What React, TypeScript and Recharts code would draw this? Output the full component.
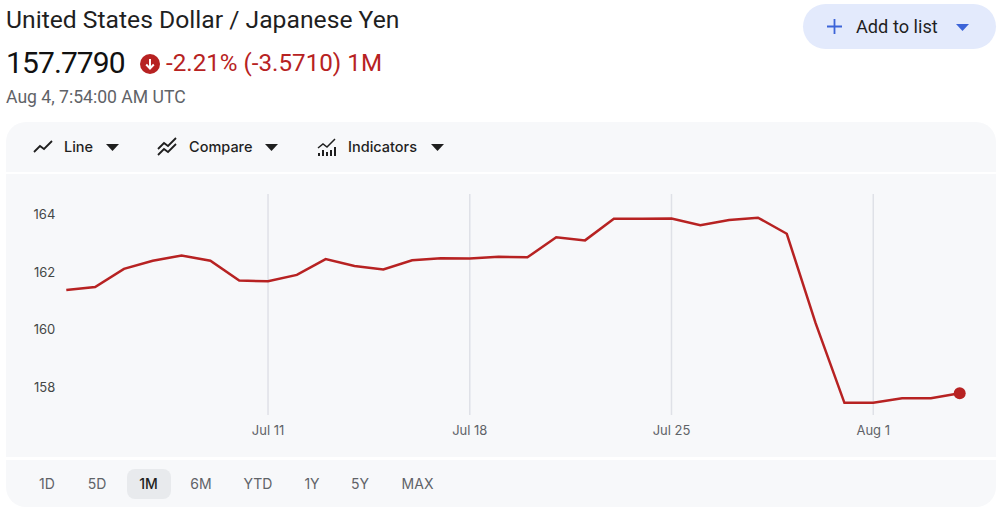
import React from 'react';
import { LineChart, Line, XAxis, YAxis, ReferenceLine } from 'recharts';

const dates = ['Jul 4','Jul 5','Jul 6','Jul 7','Jul 8','Jul 9','Jul 10','Jul 11','Jul 12','Jul 13','Jul 14','Jul 15','Jul 16','Jul 17','Jul 18','Jul 19','Jul 20','Jul 21','Jul 22','Jul 23','Jul 24','Jul 25','Jul 26','Jul 27','Jul 28','Jul 29','Jul 30','Jul 31','Aug 1','Aug 2','Aug 3','Aug 4'];
const rates = [161.37,161.48,162.11,162.39,162.57,162.39,161.70,161.68,161.90,162.45,162.21,162.09,162.41,162.48,162.47,162.53,162.51,163.21,163.10,163.85,163.85,163.86,163.63,163.81,163.89,163.33,160.22,157.45,157.45,157.61,157.61,157.779];
const xTicks = ['Jul 11','Jul 18','Jul 25','Aug 1'];
const yTicks = [158,160,162,164];
const periods = ['1D','5D','1M','6M','YTD','1Y','5Y','MAX'];
const periodCenters = [47,97,148.5,201,258,312,360,417.5];

const chartData = dates.map((date, i) => ({ date, rate: rates[i] }));
const FONT = 'Inter, Roboto, sans-serif';
const RED = '#b72222';
const PANEL = '#f7f8fa';

const abs = (s: React.CSSProperties): React.CSSProperties => ({ position: 'absolute', whiteSpace: 'nowrap', ...s });

function Txt({ x, cy, size, color = '#1f1f1f', weight = 400, family = 'Roboto, sans-serif', center = false, spacing = 0, children }: any) {
  return (
    <div style={abs({ left: x, top: cy - 20, height: 40, lineHeight: '40px', fontSize: size, color, fontWeight: weight, fontFamily: family, letterSpacing: spacing, transform: center ? 'translateX(-50%)' : undefined })}>
      {children}
    </div>
  );
}

function Tri({ x, y, w = 13, color = '#1f1f1f' }: any) {
  return (
    <svg style={abs({ left: x, top: y })} width={w} height={7}>
      <polygon points={`0,0 ${w},0 ${w / 2},7`} fill={color} />
    </svg>
  );
}

function DotEnd(props: any) {
  const { cx, cy, index } = props;
  if (index !== rates.length - 1) return <g key={index} />;
  return <circle key={index} cx={cx} cy={cy} r={6} fill={RED} />;
}

export default function App() {
  return (
    <div style={{ position: 'fixed', left: 0, top: 0, width: 1006, height: 507, background: '#fff', overflow: 'hidden' }}>
      <Txt x={6} cy={20} size={24.7}>United States Dollar / Japanese Yen</Txt>
      <Txt x={6} cy={63} size={30} weight={400} color="#111" spacing={-0.9}>157.7790</Txt>
      <svg style={abs({ left: 140, top: 54 })} width={20} height={20}>
        <circle cx={10} cy={10} r={10} fill={RED} />
        <path d="M10 5v9M6.2 10.5L10 14.5l3.8-4" stroke="#fff" strokeWidth={2} fill="none" />
      </svg>
      <Txt x={166} cy={63} size={24.2} color={RED}>-2.21% (-3.5710) 1M</Txt>
      <Txt x={6} cy={97} size={17.6} color="#5f6368">Aug 4, 7:54:00 AM UTC</Txt>

      <div style={abs({ left: 803, top: 4, width: 193, height: 45, borderRadius: 23, background: '#e3eafc' })} />
      <svg style={abs({ left: 827, top: 19 })} width={15} height={15}>
        <path d="M7.5 0v15M0 7.5h15" stroke="#3c64d8" strokeWidth={1.8} />
      </svg>
      <Txt x={856} cy={27} size={18.2}>Add to list</Txt>
      <Tri x={956} y={24} color="#3c64d8" />

      <div style={abs({ left: 6, top: 122, width: 990, height: 50, background: PANEL, borderRadius: '20px 20px 0 0' })} />
      <div style={abs({ left: 6, top: 174, width: 990, height: 283, background: PANEL })} />
      <div style={abs({ left: 6, top: 460, width: 990, height: 47, background: PANEL, borderRadius: '0 0 20px 20px' })} />

      <svg style={abs({ left: 32, top: 138 })} width={22} height={18}>
        <path d="M2 14l6-6 4 3 8-8" stroke="#1f1f1f" strokeWidth={1.8} fill="none" />
      </svg>
      <Txt x={64} cy={146.5} size={14.5} weight={500} family={FONT}>Line</Txt>
      <Tri x={105.5} y={144} />
      <svg style={abs({ left: 157, top: 137 })} width={22} height={20}>
        <path d="M1 12l6-6 4 3 8-8M1 18l6-6 4 3 8-8" stroke="#1f1f1f" strokeWidth={1.8} fill="none" />
      </svg>
      <Txt x={189} cy={146.5} size={14.5} weight={500} family={FONT}>Compare</Txt>
      <Tri x={265} y={144} />
      <svg style={abs({ left: 317, top: 137 })} width={22} height={20}>
        <path d="M1 11l5-4 4 3 8-8" stroke="#1f1f1f" strokeWidth={1.5} fill="none" />
        <path d="M2 19v-3M6 19v-6M10 19v-4M14 19v-6M18 19v-9" stroke="#1f1f1f" strokeWidth={2} />
      </svg>
      <Txt x={348} cy={146.5} size={14.5} weight={500} family={FONT}>Indicators</Txt>
      <Tri x={430.5} y={144} />

      <div style={abs({ left: 0, top: 174 })}>
        <LineChart width={1006} height={283} data={chartData} margin={{ top: 20, right: 46.3, bottom: 0, left: 0 }}>
          <XAxis dataKey="date" scale="point" padding={{ left: 0, right: 0 }} ticks={xTicks} interval={0} tickLine={false} axisLine={false} height={42} tickMargin={5} tick={{ fontSize: 13, fill: '#5f6368', fontFamily: FONT }} />
          <YAxis width={66.3} domain={[157.026, 164.713]} ticks={yTicks} tickLine={false} axisLine={false} tickMargin={5} tick={{ fontSize: 13, fill: '#444746', fontFamily: FONT }} />
          {xTicks.map((t) => (
            <ReferenceLine key={t} x={t} stroke="#dfe1e7" strokeWidth={1.5} />
          ))}
          <Line dataKey="rate" type="linear" stroke={RED} strokeWidth={2.5} dot={DotEnd} activeDot={false} isAnimationActive={false} />
        </LineChart>
      </div>

      <div style={abs({ left: 127, top: 469, width: 44, height: 30, borderRadius: 8, background: '#e8eaed' })} />
      {periods.map((p, i) => (
        <Txt key={p} x={periodCenters[i]} cy={484} size={14} center family={FONT} color={p === '1M' ? '#1f1f1f' : '#5f6368'} weight={p === '1M' ? 500 : 400}>{p}</Txt>
      ))}
    </div>
  );
}
